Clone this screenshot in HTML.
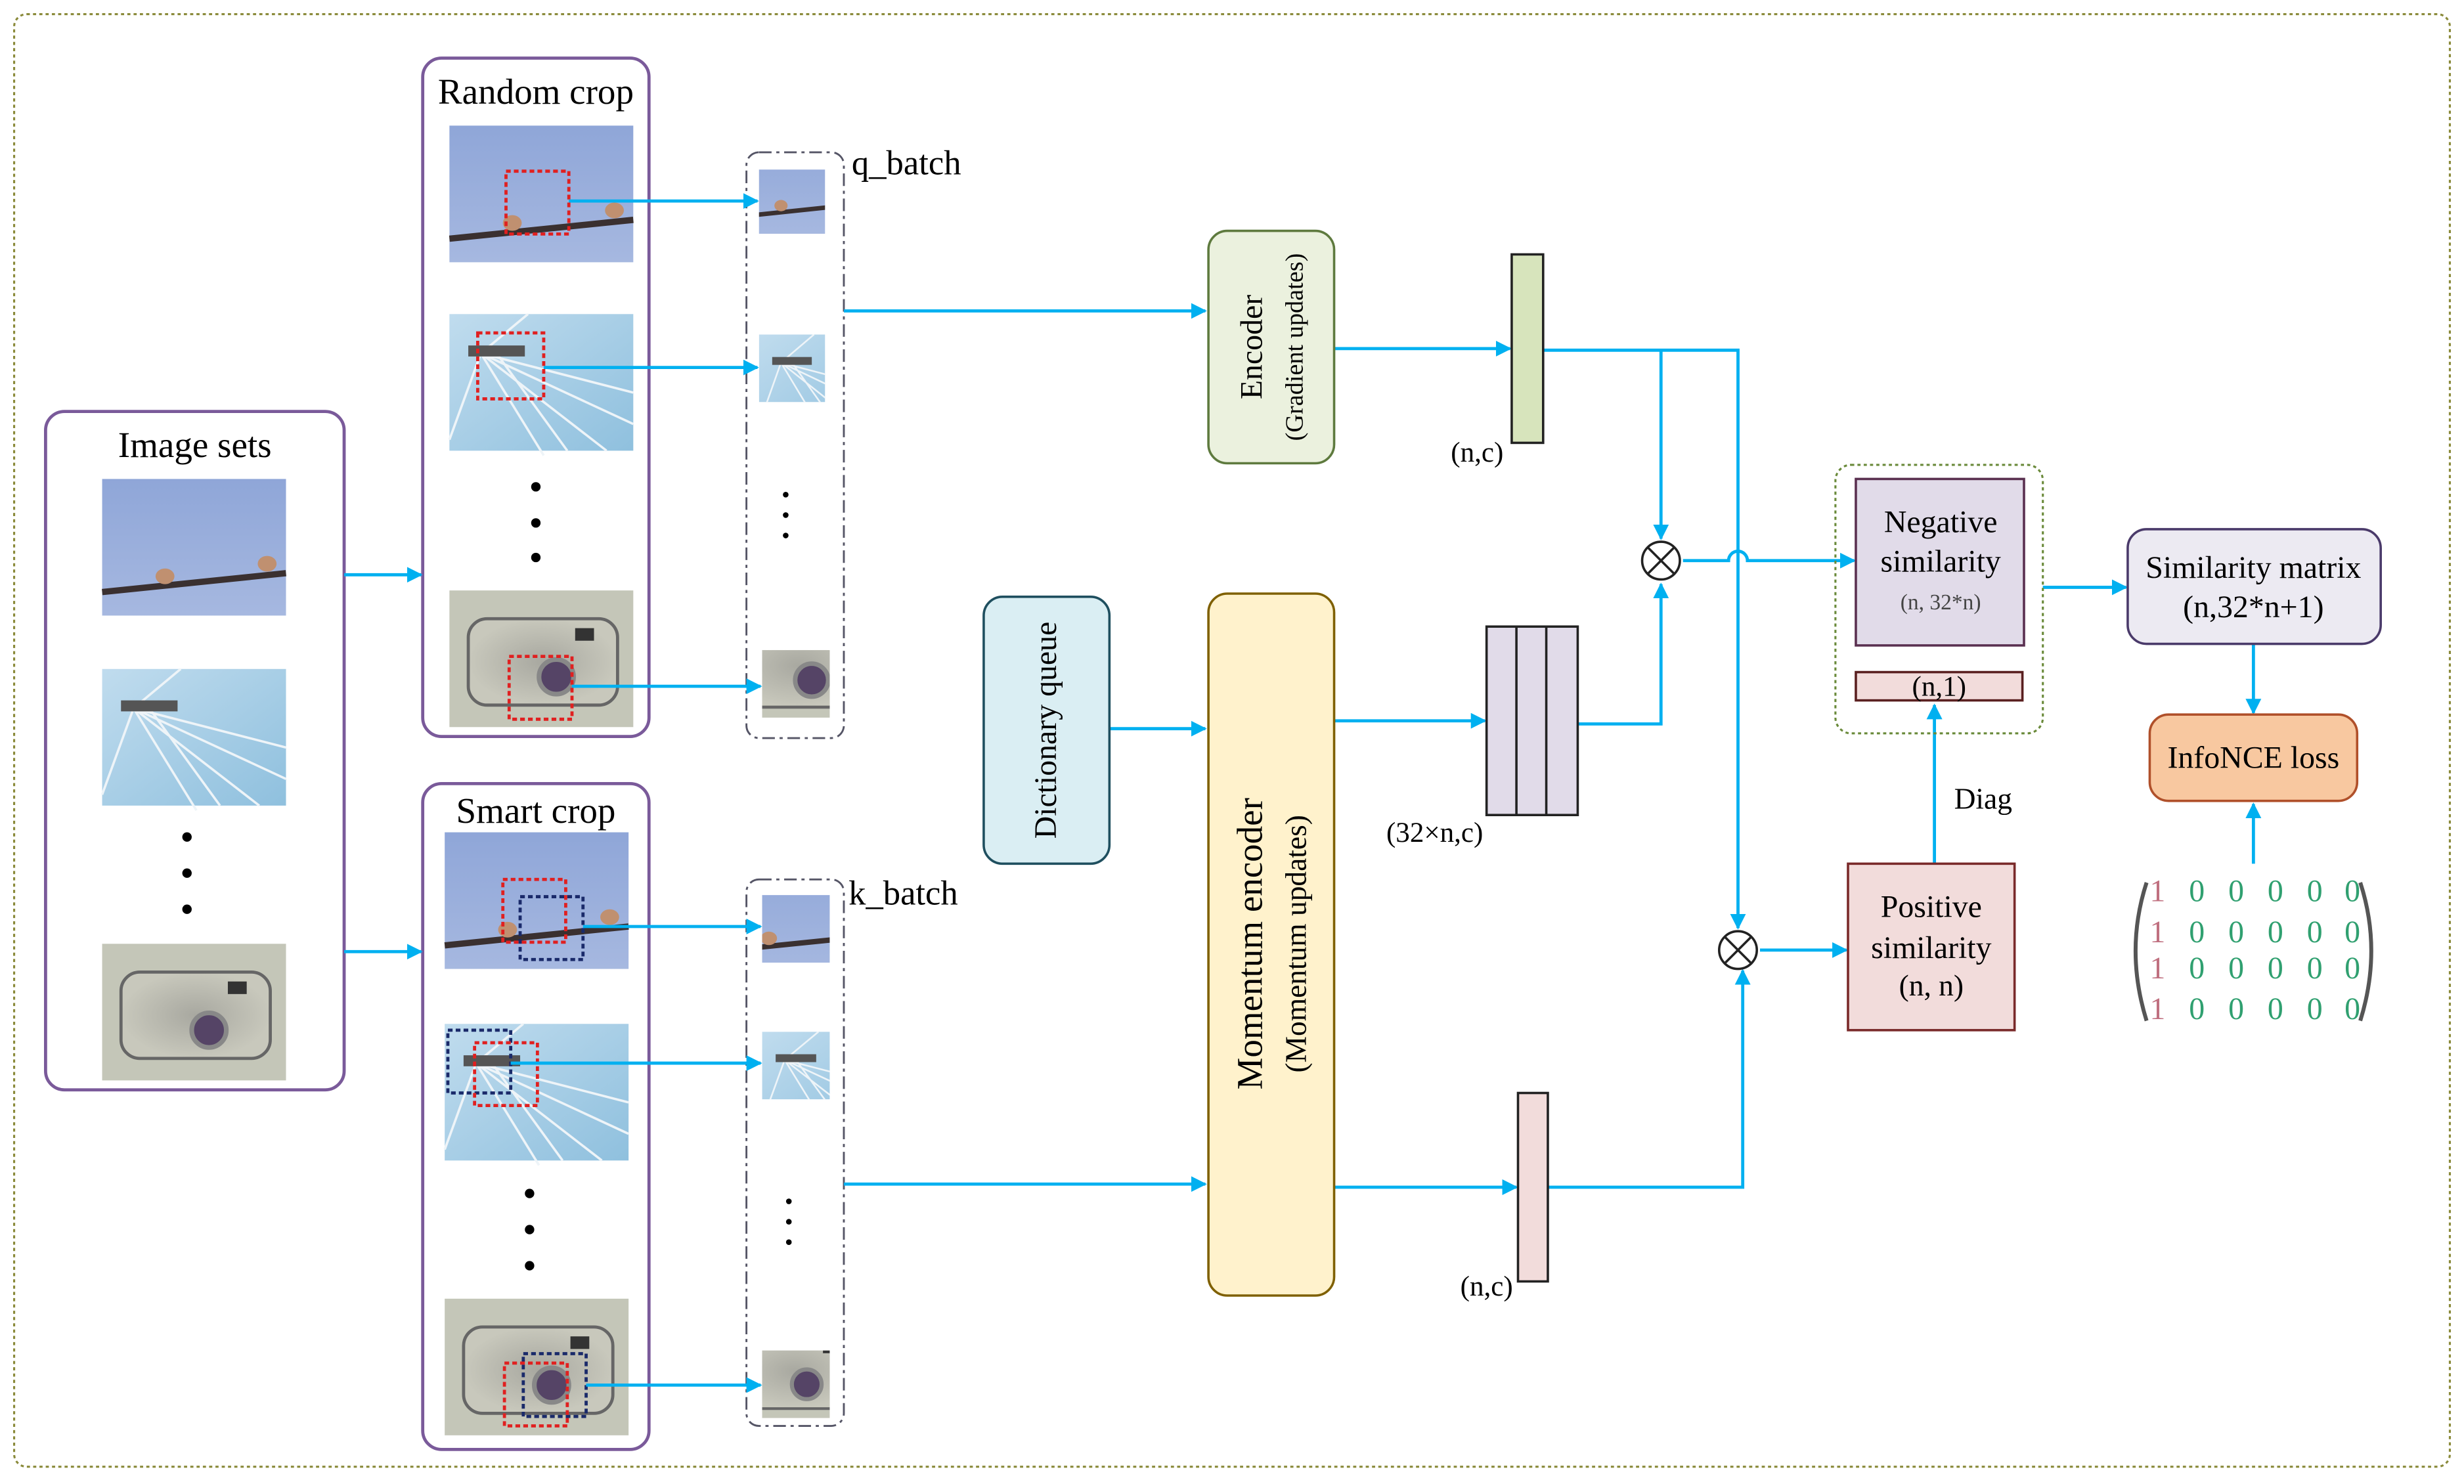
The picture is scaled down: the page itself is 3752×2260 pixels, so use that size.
<!DOCTYPE html>
<html><head><meta charset="utf-8"><style>html,body{margin:0;padding:0;background:#fff}svg{display:block}</style></head><body>
<svg xmlns="http://www.w3.org/2000/svg" width="3752" height="2260" viewBox="0 0 1568 945" preserveAspectRatio="none" font-family="'Liberation Serif', serif">
<defs>
<marker id="ar" markerWidth="10" markerHeight="10" refX="9" refY="5" orient="auto" markerUnits="userSpaceOnUse"><path d="M0,0 L10,5 L0,10 z" fill="#00b0f0"/></marker>
<linearGradient id="sky" x1="0" y1="0" x2="0" y2="1"><stop offset="0" stop-color="#8fa6d8"/><stop offset="1" stop-color="#a6b8e0"/></linearGradient>
<linearGradient id="whl" x1="0" y1="0" x2="1" y2="1"><stop offset="0" stop-color="#c0dcee"/><stop offset="1" stop-color="#8fc0de"/></linearGradient>
<radialGradient id="cam"><stop offset="0" stop-color="#a8a8a0"/><stop offset="1" stop-color="#c8c8bc"/></radialGradient>
<g id="birds"><rect width="117" height="87" fill="url(#sky)"/><path d="M0,72 L117,60" stroke="#3a3030" stroke-width="4"/><ellipse cx="40" cy="62" rx="6" ry="5" fill="#c09070"/><ellipse cx="105" cy="54" rx="6" ry="5" fill="#c09070"/></g>
<g id="wheel"><rect width="117" height="87" fill="url(#whl)"/><path d="M20,25 L60,90 M30,25 L75,87 M20,25 L117,50 M20,25 L117,70 M20,25 L0,80 M20,25 L50,0 M20,25 L100,87" stroke="#eef4f8" stroke-width="1.5"/><rect x="12" y="20" width="36" height="7" fill="#555"/></g>
<g id="camera"><rect width="117" height="87" fill="#c4c6b8"/><rect x="12" y="18" width="95" height="55" rx="12" fill="url(#cam)" stroke="#666" stroke-width="2"/><circle cx="68" cy="55" r="11" fill="#554466" stroke="#888" stroke-width="3"/><rect x="80" y="24" width="12" height="8" fill="#333"/></g>
</defs>
<rect x="9" y="9" width="1550" height="925" rx="8" fill="none" stroke="#8a8a3a" stroke-width="1.3" stroke-dasharray="2,2"/>

<g fill="none" stroke="#7a5a9a" stroke-width="2">
<rect x="29" y="262" width="190" height="432" rx="12"/>
<rect x="269" y="37" width="144" height="432" rx="12"/>
<rect x="269" y="499" width="144" height="424" rx="12"/>
</g>
<g font-size="23" text-anchor="middle" fill="#000">
<text x="124" y="291">Image sets</text>
<text x="341" y="66">Random crop</text>
<text x="341" y="524">Smart crop</text>
</g>
<use href="#birds" x="65" y="305"/><use href="#wheel" x="65" y="426"/><use href="#camera" x="65" y="601"/>
<use href="#birds" x="286" y="80"/><use href="#wheel" x="286" y="200"/><use href="#camera" x="286" y="376"/>
<use href="#birds" x="283" y="530"/><use href="#wheel" x="283" y="652"/><use href="#camera" x="283" y="827"/>
<g fill="#000"><circle cx="119" cy="533" r="3"/><circle cx="119" cy="556" r="3"/><circle cx="119" cy="579" r="3"/>
<circle cx="341" cy="310" r="3"/><circle cx="341" cy="333" r="3"/><circle cx="341" cy="355" r="3"/>
<circle cx="337" cy="760" r="3"/><circle cx="337" cy="783" r="3"/><circle cx="337" cy="806" r="3"/>
<circle cx="500" cy="315" r="1.8"/><circle cx="500" cy="328" r="1.8"/><circle cx="500" cy="341" r="1.8"/>
<circle cx="502" cy="765" r="1.8"/><circle cx="502" cy="778" r="1.8"/><circle cx="502" cy="791" r="1.8"/></g>
<g fill="none" stroke-width="2" stroke-dasharray="3,2">
<rect x="322" y="109" width="40" height="40" stroke="#e02020"/>
<rect x="304" y="212" width="42" height="42" stroke="#e02020"/>
<rect x="324" y="418" width="40" height="40" stroke="#e02020"/>
<rect x="320" y="560" width="40" height="40" stroke="#e02020"/>
<rect x="331" y="571" width="40" height="40" stroke="#1a2a6a"/>
<rect x="285" y="656" width="40" height="40" stroke="#1a2a6a"/>
<rect x="302" y="664" width="40" height="40" stroke="#e02020"/>
<rect x="333" y="862" width="40" height="40" stroke="#1a2a6a"/>
<rect x="321" y="868" width="40" height="40" stroke="#e02020"/>
</g>
<g fill="none" stroke="#556" stroke-width="1.2" stroke-dasharray="8,3,2,3">
<rect x="475" y="97" width="62" height="373" rx="8"/>
<rect x="475" y="560" width="62" height="348" rx="8"/>
</g>
<g font-size="22" fill="#000"><text x="542" y="111">q_batch</text><text x="540" y="576">k_batch</text></g>
<svg x="483" y="108" width="42" height="43" viewBox="20 30 60 60" preserveAspectRatio="none"><use href="#birds"/></svg>
<svg x="483" y="213" width="42" height="43" viewBox="0 0 60 60" preserveAspectRatio="none"><use href="#wheel"/></svg>
<svg x="485" y="414" width="43" height="43" viewBox="35 35 45 45" preserveAspectRatio="none"><use href="#camera"/></svg>
<svg x="485" y="570" width="43" height="43" viewBox="35 30 50 50" preserveAspectRatio="none"><use href="#birds"/></svg>
<svg x="485" y="657" width="43" height="43" viewBox="0 0 60 60" preserveAspectRatio="none"><use href="#wheel"/></svg>
<svg x="485" y="860" width="43" height="43" viewBox="35 30 50 50" preserveAspectRatio="none"><use href="#camera"/></svg>

<g stroke="#00b0f0" stroke-width="2" fill="none" marker-end="url(#ar)">
<path d="M219,366 H268"/><path d="M219,606 H268"/>
<path d="M362,128 H482"/><path d="M346,234 H482"/><path d="M364,437 H484"/>
<path d="M371,590 H484"/><path d="M325,677 H484"/><path d="M373,882 H484"/>
<path d="M537,198 H767"/><path d="M537,754 H767"/>
<path d="M849,222 H961"/><path d="M706,464 H767"/><path d="M849,459 H945"/><path d="M849,756 H965"/>
<path d="M982,223 H1106 V591"/>
<path d="M1057,223 V343"/>
<path d="M1004,461 H1057 V372"/>
<path d="M985,756 H1109 V618"/>
<path d="M1071,357 H1100 A6,6 0 0 1 1112,357 H1180"/>
<path d="M1120,605 H1175"/>
<path d="M1231,550 V449"/>
<path d="M1300,374 H1353"/>
<path d="M1434,410 V454"/>
<path d="M1434,550 V512"/>
</g>
<g stroke="#222" stroke-width="1.5" fill="#fff">
<circle cx="1057" cy="357" r="12"/><path d="M1049,349 L1065,365 M1065,349 L1049,365"/>
<circle cx="1106" cy="605" r="12"/><path d="M1098,597 L1114,613 M1114,597 L1098,613"/>
</g>

<rect x="769" y="147" width="80" height="148" rx="12" fill="#ebf1de" stroke="#5e7a3e" stroke-width="1.5"/>
<g transform="translate(803,221) rotate(-90)" text-anchor="middle"><text font-size="20">Encoder</text></g>
<g transform="translate(829,221) rotate(-90)" text-anchor="middle"><text font-size="16">(Gradient updates)</text></g>
<rect x="962" y="162" width="20" height="120" fill="#d7e4bc" stroke="#222" stroke-width="1.5"/>
<text x="940" y="294" font-size="18" text-anchor="middle">(n,c)</text>

<rect x="626" y="380" width="80" height="170" rx="12" fill="#daeef3" stroke="#1f4f5f" stroke-width="1.5"/>
<g transform="translate(672,465) rotate(-90)" text-anchor="middle"><text font-size="20">Dictionary queue</text></g>

<rect x="769" y="378" width="80" height="447" rx="12" fill="#fff2cc" stroke="#7f6000" stroke-width="1.5"/>
<g transform="translate(803,601) rotate(-90)" text-anchor="middle"><text font-size="23">Momentum encoder</text></g>
<g transform="translate(831,601) rotate(-90)" text-anchor="middle"><text font-size="19">(Momentum updates)</text></g>

<rect x="946" y="399" width="58" height="120" fill="#e1dbe9" stroke="#222" stroke-width="1.5"/>
<path d="M965,399 V519 M984,399 V519" stroke="#222" stroke-width="1.5"/>
<text x="913" y="536" font-size="18" text-anchor="middle">(32×n,c)</text>
<rect x="966" y="696" width="19" height="120" fill="#f2dcdb" stroke="#222" stroke-width="1.5"/>
<text x="946" y="825" font-size="18" text-anchor="middle">(n,c)</text>

<rect x="1168" y="296" width="132" height="171" rx="10" fill="none" stroke="#6a8a3a" stroke-width="1.3" stroke-dasharray="2,2"/>
<rect x="1181" y="305" width="107" height="106" fill="#e1dbe9" stroke="#5a3050" stroke-width="1.5"/>
<text x="1235" y="339" font-size="20" text-anchor="middle">Negative</text>
<text x="1235" y="364" font-size="20" text-anchor="middle">similarity</text>
<text x="1235" y="388" font-size="14" text-anchor="middle" fill="#444">(n, 32*n)</text>
<rect x="1181" y="428" width="106" height="18" fill="#f2dcdb" stroke="#5a2020" stroke-width="1.5"/>
<text x="1234" y="443" font-size="18" text-anchor="middle">(n,1)</text>
<text x="1262" y="515" font-size="19" text-anchor="middle">Diag</text>
<rect x="1176" y="550" width="106" height="106" fill="#f2dcdb" stroke="#7a2a2a" stroke-width="1.5"/>
<text x="1229" y="584" font-size="20" text-anchor="middle">Positive</text>
<text x="1229" y="610" font-size="20" text-anchor="middle">similarity</text>
<text x="1229" y="634" font-size="19" text-anchor="middle">(n, n)</text>

<rect x="1354" y="337" width="161" height="73" rx="12" fill="#eceaf2" stroke="#4a3a6a" stroke-width="1.5"/>
<text x="1434" y="368" font-size="20" text-anchor="middle">Similarity matrix</text>
<text x="1434" y="393" font-size="20" text-anchor="middle">(n,32*n+1)</text>
<rect x="1368" y="455" width="132" height="55" rx="12" fill="#f8c8a0" stroke="#b0502a" stroke-width="1.5"/>
<text x="1434" y="489" font-size="20" text-anchor="middle">InfoNCE loss</text>

<path d="M1366,562 Q1352,605 1366,650" stroke="#555" stroke-width="2.5" fill="none"/>
<path d="M1502,562 Q1516,605 1502,650" stroke="#555" stroke-width="2.5" fill="none"/>
<g font-size="20" text-anchor="middle">
<g fill="#c07080"><text x="1373" y="574">1</text><text x="1373" y="600">1</text><text x="1373" y="623">1</text><text x="1373" y="649">1</text></g>
<g fill="#30a070">
<text x="1398" y="574">0</text><text x="1423" y="574">0</text><text x="1448" y="574">0</text><text x="1473" y="574">0</text><text x="1497" y="574">0</text>
<text x="1398" y="600">0</text><text x="1423" y="600">0</text><text x="1448" y="600">0</text><text x="1473" y="600">0</text><text x="1497" y="600">0</text>
<text x="1398" y="623">0</text><text x="1423" y="623">0</text><text x="1448" y="623">0</text><text x="1473" y="623">0</text><text x="1497" y="623">0</text>
<text x="1398" y="649">0</text><text x="1423" y="649">0</text><text x="1448" y="649">0</text><text x="1473" y="649">0</text><text x="1497" y="649">0</text>
</g></g>
</svg>
</body></html>
